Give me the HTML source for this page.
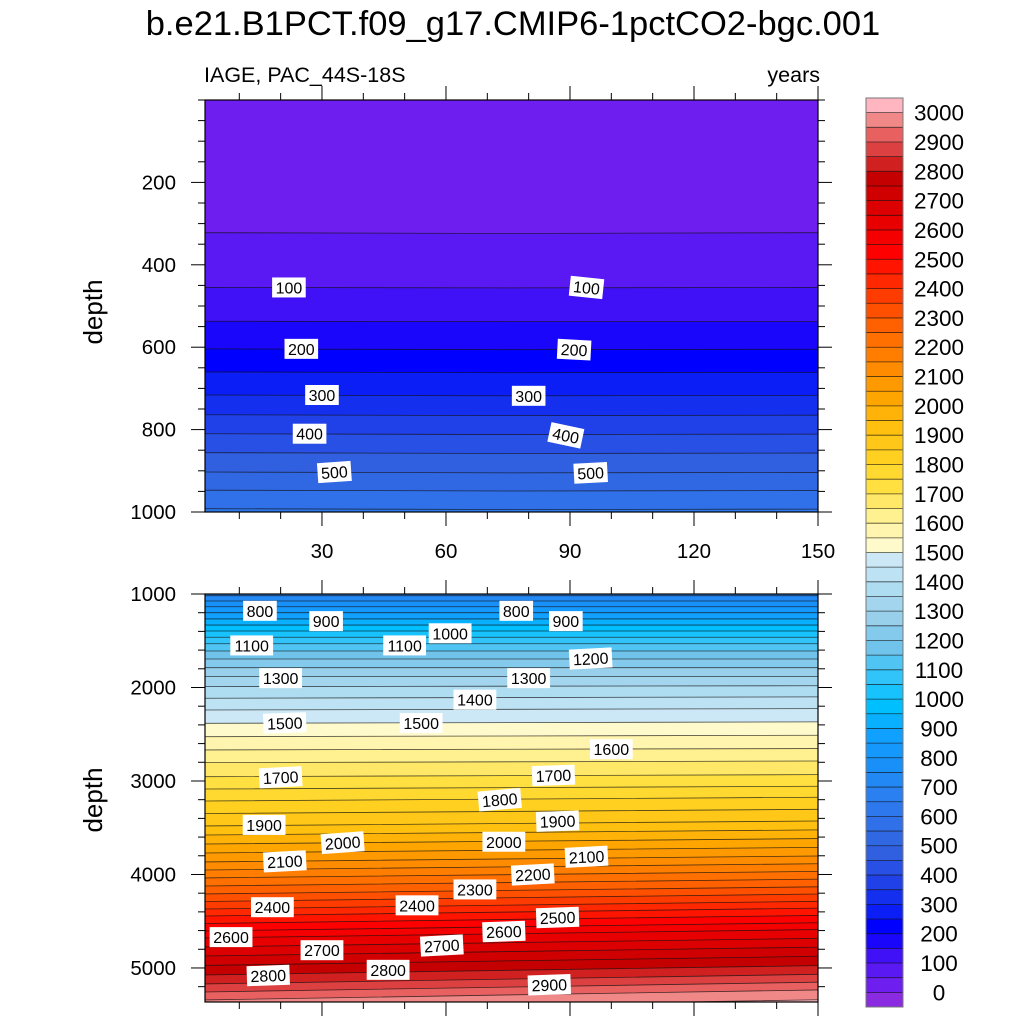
<!DOCTYPE html>
<html><head><meta charset="utf-8">
<style>
html,body{margin:0;padding:0;background:#fff;}
svg{display:block;font-family:"Liberation Sans",Arial,sans-serif;}
</style></head>
<body>
<svg id="chart" width="1024" height="1024" viewBox="0 0 1024 1024" xmlns="http://www.w3.org/2000/svg">
<text x="513" y="35" font-size="34.5" text-anchor="middle">b.e21.B1PCT.f09_g17.CMIP6-1pctCO2-bgc.001</text>
<text x="204" y="82" font-size="21.5">IAGE, PAC_44S-18S</text>
<text x="820" y="82" font-size="21.5" text-anchor="end">years</text>
<text transform="translate(102,312) rotate(-90)" font-size="26" text-anchor="middle">depth</text>
<text transform="translate(102,800) rotate(-90)" font-size="26" text-anchor="middle">depth</text>
<g id="top"></g>
<g id="bot"></g>
<g id="cbar"></g>
</svg>
<script>
// ---- data ----
const years = [1.7, 75, 150];
const levels = [];
for (let v = 0; v <= 3000; v += 50) levels.push(v);
const cbarLabels = [0,100,200,300,400,500,600,700,800,900,1000,1100,1200,1300,1400,1500,1600,1700,1800,1900,2000,2100,2200,2300,2400,2500,2600,2700,2800,2900,3000];
const topTicks = [200,400,600,800,1000];
const botTicks = [1000,2000,3000,4000,5000];
const xTicks = [30,60,90,120,150];
// upper panel contours: level values, depth at year 1.7 / 75 / 150
const topLevels = [50,100,150,200,250,300,350,400,450,500,550,600];
const topDepthL = [322,455,537,604,660,716,764,810,856,903,947,992];
const topDepthM = [324,456,538,606,662,718,766,812,858,905,949,994];
const topDepthR = [322,455,538,605,661,717,765,811,857,904,948,993];
// lower panel contours
const botLevels = [700,750,800,850,900,950,1000,1050,1100,1150,1200,1250,1300,1350,1400,1450,1500,1550,1600,1650,1700,1750,1800,1850,1900,1950,2000,2050,2100,2150,2200,2250,2300,2350,2400,2450,2500,2550,2600,2650,2700,2750,2800,2850,2900,2950,3000];
const botDepthL = [1018,1075,1136,1200,1267,1332,1396,1463,1532,1610,1695,1788,1884,1991,2115,2241,2383,2526,2668,2804,2954,3086,3214,3348,3481,3578,3674,3770,3866,3952,4037,4123,4208,4289,4369,4444,4524,4604,4679,4775,4872,4973,5075,5171,5257,5342,5450];
const botOffR = [0,0,0,0,0,0,0,0,0,0,0,0,0,-10,-15,-15,-15,-15,-15,-18,-22,-30,-40,-45,-53,-55,-58,-60,-64,-67,-70,-73,-76,-80,-82,-84,-86,-88,-90,-92,-95,-98,-100,-103,-105,-107,-110];
// contour labels [text, x(year), depth, rotation]
const topLabels = [["100",22,455,0],["100",94,455,6],["200",25,604,0],["200",91,606,3],["300",30,716,0],["300",80,718,0],["400",27,810,0],["400",89,814,12],["500",33,903,-4],["500",95,905,-3]];
const botLabels = [["800",15,1180,0],["900",31,1290,0],["800",77,1180,0],["900",89,1290,0],["1000",61,1420,0],["1100",13,1550,0],["1100",50,1550,0],["1200",95,1690,-3],["1300",20,1900,0],["1300",80,1900,0],["1400",67,2130,0],["1500",21,2380,-2],["1500",54,2380,0],["1600",100,2660,0],["1700",20,2960,-3],["1700",86,2940,-2],["1800",73,3200,-5],["1900",16,3470,0],["1900",87,3430,-2],["2000",35,3660,-4],["2000",74,3650,0],["2100",21,3860,-3],["2100",94,3810,-3],["2200",81,4000,-3],["2300",67,4160,0],["2400",18,4350,0],["2400",53,4330,0],["2500",87,4460,-2],["2600",8,4670,0],["2600",74,4610,-2],["2700",30,4810,0],["2700",59,4760,-3],["2800",17,5080,-2],["2800",46,5020,0],["2900",85,5180,-2]];

// ---- style ----
const stops = [[-25,"#8a2be2"],[25,"#6e1ff0"],[75,"#5a18f2"],[125,"#4010f6"],[175,"#1a06fa"],[225,"#0000ff"],[275,"#0a1ef5"],[375,"#2040e8"],[475,"#3060e0"],[575,"#3070e8"],[675,"#2a80f0"],[775,"#1890f8"],[875,"#10a0ff"],[975,"#00bfff"],[1075,"#30c4fa"],[1175,"#70c4ec"],[1275,"#98d0ec"],[1375,"#aedcf0"],[1475,"#cce8f6"],[1525,"#fffacc"],[1625,"#fff090"],[1725,"#ffe040"],[1825,"#ffd020"],[1925,"#ffc010"],[2025,"#ffa500"],[2125,"#ff8c00"],[2225,"#ff7000"],[2325,"#ff5000"],[2425,"#ff2800"],[2525,"#ff0000"],[2625,"#e80000"],[2725,"#d00000"],[2775,"#c40000"],[2825,"#d02020"],[2875,"#dc4040"],[2925,"#e86060"],[2975,"#f08888"],[3025,"#ffb6c1"]];
function hex(h){return [1,3,5].map(i=>parseInt(h.substr(i,2),16));}
function colorFor(v){
  if(v<=stops[0][0])return stops[0][1];
  for(let i=1;i<stops.length;i++){
    if(v<=stops[i][0]){const a=hex(stops[i-1][1]),b=hex(stops[i][1]);const t=(v-stops[i-1][0])/(stops[i][0]-stops[i-1][0]);
      return "rgb("+a.map((c,k)=>Math.round(c+(b[k]-c)*t)).join(",")+")";}
  }
  return stops[stops.length-1][1];
}
const NS="http://www.w3.org/2000/svg";
function el(tag,attrs,parent){const e=document.createElementNS(NS,tag);for(const k in attrs)e.setAttribute(k,attrs[k]);parent.appendChild(e);return e;}

const X0=205,X1=818;
const xs = yr => X0+(yr-1.7)*(X1-X0)/(150-1.7);

function panel(g,name,y0,y1,d0,d1,lv,dL,dM,dR,labels,ticks,minorStep,showXLabels){
  const ys = d => y0+(d-d0)*(y1-y0)/(d1-d0);
  const clipId="clip-"+name;
  const cp=el("clipPath",{id:clipId},g);
  el("rect",{x:X0,y:y0,width:X1-X0,height:y1-y0},cp);
  const inner=el("g",{"clip-path":"url(#"+clipId+")"},g);
  const bg=el("rect",{x:X0,y:y0,width:X1-X0,height:y1-y0,fill:colorFor(lv[0]-25)},inner);
  
  
  for(let i=0;i<lv.length;i++){
    const pts=[[xs(years[0]),ys(dL[i])],[xs(years[1]),ys(dM[i])],[xs(years[2]),ys(dR[i])]];
    const line="M"+(X0-2)+","+pts[0][1]+" L"+pts.map(p=>p[0]+","+p[1]).join(" L")+" L"+(X1+2)+","+pts[2][1];
    const band=el("path",{d:line+" L"+(X1+2)+","+(y1+5)+" L"+(X0-2)+","+(y1+5)+" Z",fill:colorFor(lv[i]+25)},inner);
    
    
    lines.push([inner,line,lv[i]]);
  }
  lines.forEach(([p,d,v])=>{
    const c=el("path",{d:d,fill:"none",stroke:"#111","stroke-width":0.8,"stroke-opacity":0.75},p);
    
    
  });
  lines.length=0;
  labels.forEach(([t,yr,d,r])=>{
    const x=xs(yr),y=ys(d);
    const lg=el("g",{transform:"translate("+x+","+y+") rotate("+r+")"},inner);
    
    
    const w=t.length*9.2+6;
    el("rect",{x:-w/2,y:-10,width:w,height:20,fill:"#fff"},lg);
    el("text",{x:0,y:6,"font-size":16,"text-anchor":"middle",fill:"#000"},lg).textContent=t;
  });
  const fr=el("rect",{x:X0,y:y0,width:X1-X0,height:y1-y0,fill:"none",stroke:"#000","stroke-width":1.2},g);
  
  
  const first=Math.ceil(d0/minorStep)*minorStep;
  for(let d=first;d<=d1;d+=minorStep){
    const y=ys(d);const major=ticks.includes(d);const L=major?14:7;
    el("line",{x1:X0,x2:X0-L,y1:y,y2:y,stroke:"#000","stroke-width":1},g);
    el("line",{x1:X1,x2:X1+L,y1:y,y2:y,stroke:"#000","stroke-width":1},g);
  }
  ticks.forEach(t=>{
    const tl=el("text",{x:X0-29,y:ys(t)+7,"font-size":20.5,"text-anchor":"end"},g);
    tl.textContent=t;
    
    
  });
  for(let yr=10;yr<=150;yr+=10){
    const x=xs(yr);const major=xTicks.includes(yr);const L=major?14:7;
    el("line",{x1:x,x2:x,y1:y1,y2:y1+L,stroke:"#000","stroke-width":1},g);
    el("line",{x1:x,x2:x,y1:y0,y2:y0-L,stroke:"#000","stroke-width":1},g);
  }
  if(showXLabels) xTicks.forEach(t=>{
    const tl=el("text",{x:xs(t),y:y1+46,"font-size":20.5,"text-anchor":"middle"},g);
    tl.textContent=t;
    
    
  });
}
const lines=[];
const botDepthR = botDepthL.map((d,i)=>d+botOffR[i]);
const botDepthM = botDepthL.map((d,i)=>d+botOffR[i]/2);
panel(document.getElementById("top"),"upper",100,512,0,1000,topLevels,topDepthL,topDepthM,topDepthR,topLabels,topTicks,50,true);
panel(document.getElementById("bot"),"lower",594,1002,1000,5364,botLevels,botDepthL,botDepthM,botDepthR,botLabels,botTicks,200,false);

// colorbar
const cb=document.getElementById("cbar");
const CY0=98,CY1=1007,CX=866,CW=37;
const nb=levels.length+1, bh=(CY1-CY0)/nb;
for(let k=0;k<nb;k++){
  const v = k===0?-25:levels[k-1]+25;
  const r=el("rect",{x:CX,y:CY1-(k+1)*bh,width:CW,height:bh+0.3,fill:colorFor(v)},cb);
  
  
}
levels.forEach((v,i)=>{
  const y=CY1-(i+1)*bh;
  el("line",{x1:CX,x2:CX+CW,y1:y,y2:y,stroke:"#111","stroke-width":0.8,"stroke-opacity":0.75},cb);
});
el("rect",{x:CX,y:CY0,width:CW,height:CY1-CY0,fill:"none",stroke:"#777","stroke-width":1},cb);
cbarLabels.forEach(v=>{
  const i=levels.indexOf(v);
  const t=el("text",{x:939,y:CY1-(i+1)*bh+8,"font-size":22.5,"text-anchor":"middle"},cb);
  t.textContent=v;
  
  
});
</script>
</body></html>
